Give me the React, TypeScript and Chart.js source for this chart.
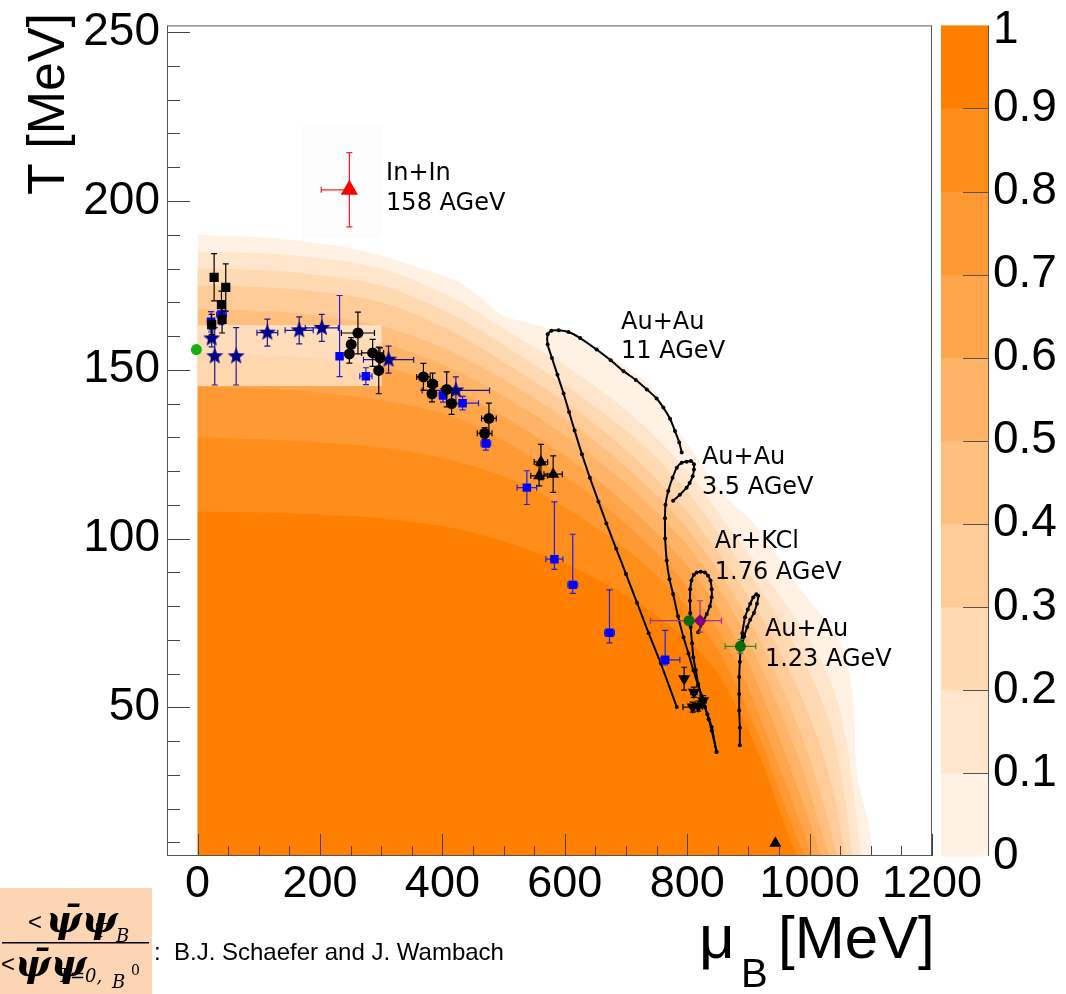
import React, { useEffect, useRef } from "react";
import { Chart, registerables } from "chart.js";
Chart.register(...registerables);

// ---------- axes ----------
const X_MIN = -50;
const X_MAX = 1200;
const Y_MIN = 6;
const Y_MAX = 252;
const xMajorTicks = [0, 200, 400, 600, 800, 1000, 1200];
const yMajorTicks = [50, 100, 150, 200, 250];
const xMinorTicks = [50, 100, 150, 250, 300, 350, 450, 500, 550, 650, 700, 750, 850, 900, 950, 1050, 1100, 1150];
const yMinorTicks = [10, 20, 30, 40, 60, 70, 80, 90, 110, 120, 130, 140, 160, 170, 180, 190, 210, 220, 230, 240];

// ---------- palette (colour bar) ----------
const paletteLevels = [0, 0.1, 0.2, 0.3, 0.4, 0.5, 0.6, 0.7, 0.8, 0.9, 1];
const paletteLabels = ["0", "0.1", "0.2", "0.3", "0.4", "0.5", "0.6", "0.7", "0.8", "0.9", "1"];
const paletteColors = ["#fff2e5", "#ffe5cc", "#ffd9b2", "#ffcc99", "#ffbf7f", "#ffb366", "#ffa64c", "#ff9933", "#ff8d19", "#ff8000"];

// ---------- condensate contours (mu_B, T) : outer edge of each level ----------
const contour00 = [[0, 190], [120, 189], [250, 186], [350, 181], [425, 176], [465, 171], [500, 166], [560, 163], [610, 160], [690, 152], [740, 145], [793, 130], [865, 112], [907, 105], [973, 88], [1050, 69], [1071, 53], [1077, 31], [1098, 14], [1104, 6]];
const contour01 = [[0, 185], [150, 184], [300, 180], [420, 171], [520, 160], [620, 149], [720, 135], [800, 120], [870, 103], [940, 86], [1000, 70], [1040, 55], [1062, 38], [1075, 20], [1085, 6]];
const contour02 = [[0, 180], [150, 179], [300, 175], [420, 166], [520, 155], [620, 143], [720, 129], [800, 114], [870, 97], [930, 82], [990, 64], [1030, 47], [1052, 30], [1064, 15], [1070, 6]];
const contour03 = [[0, 175], [150, 174], [300, 170], [420, 161], [520, 150], [620, 138], [720, 123], [800, 108], [870, 91], [920, 77], [975, 58], [1015, 40], [1040, 24], [1058, 6]];
const contour04 = [[0, 168], [150, 167], [300, 163], [420, 155], [520, 145], [620, 133], [720, 118], [800, 103], [860, 88], [910, 73], [960, 54], [1000, 35], [1028, 18], [1045, 6]];
const contour05 = [[0, 163], [150, 162], [300, 158], [420, 150], [520, 140], [620, 128], [720, 113], [800, 98], [860, 83], [905, 68], [950, 50], [990, 31], [1015, 16], [1032, 6]];
const contour06 = [[0, 155], [150, 154], [300, 151], [420, 144], [520, 134], [620, 122], [720, 107], [800, 92], [855, 78], [900, 63], [940, 46], [975, 29], [1002, 15], [1018, 6]];
const contour07 = [[0, 145], [150, 144], [300, 141], [420, 136], [520, 127], [620, 116], [720, 101], [800, 86], [850, 73], [895, 58], [930, 42], [962, 27], [988, 14], [1004, 6]];
const contour08 = [[0, 130], [150, 129], [300, 127], [420, 123], [520, 117], [620, 107], [720, 94], [800, 80], [850, 67], [890, 53], [925, 38], [955, 23], [978, 12], [992, 6]];
const contour09 = [[0, 108], [150, 107.5], [300, 106], [420, 103], [520, 98], [620, 91], [720, 81], [800, 70], [850, 60], [890, 47], [920, 35], [948, 21], [968, 11], [979, 6]];
const contours = [contour00, contour01, contour02, contour03, contour04, contour05, contour06, contour07, contour08, contour09];

// shaded lattice band and faint label box
const latticeBoxMu = [0, 301];
const latticeBoxT = [145.2, 163.2];
const labelBoxMu = [170, 300];
const labelBoxT = [189, 222.6];

// ---------- freeze-out data ----------
const blackSqMu = [27, 46, 39, 40, 23];
const blackSqT = [177.4, 174.4, 169.3, 164.9, 163.4];
const blackSqErrT = [7, 7, 4, 4, 3];
const blackSqErrMu = [2, 2, 3, 3, 2];

const blueSqMu = [22, 39, 232, 275, 401, 433, 471, 538, 583, 613, 673, 764];
const blueSqT = [164.2, 166.4, 154.0, 148.1, 142.4, 140.1, 128.2, 115.1, 93.9, 86.3, 72.1, 64.1];
const blueSqErrTLo = [3, 3, 6, 2.5, 2, 2, 2, 5, 3, 2.5, 3, 1.5];
const blueSqErrTHi = [3, 3, 18, 2.5, 2, 2, 2, 5, 17, 15, 12.7, 8.7];
const blueSqErrMuLo = [6, 8, 3, 10, 6, 26, 8, 16, 14, 8, 8, 7];
const blueSqErrMuHi = [6, 8, 3, 10, 6, 26, 8, 16, 14, 8, 8, 24];

const starMu = [23, 28, 63, 114, 166, 203, 312, 422];
const starT = [159.3, 154.0, 154.0, 161.0, 161.7, 162.4, 153.0, 143.9];
const starErrT = [2.5, 8.5, 8.5, 4, 4, 4, 4, 4];
const starErrMu = [5, 5, 5, 17, 23, 27, 41, 55];

const circMu = [262, 251, 248, 286, 298, 296, 369, 384, 383, 407, 415, 476, 469];
const circT = [160.9, 157.5, 154.7, 155.0, 153.5, 149.8, 147.9, 145.8, 142.9, 144.2, 140.0, 135.6, 131.2];
const circErrT = [6.2, 2, 2.7, 4, 3, 6.9, 4, 3.2, 2.4, 5.2, 3.2, 4.5, 1.7];
const circErrMu = [27, 5, 5, 18, 6, 6, 11, 8, 6, 6, 6, 12, 12];

const triMu = [561, 558, 581, 944];
const triT = [122.7, 118.6, 119.1, 9.8];
const triErrT = [5.2, 3, 5.4, 0];
const triErrMu = [11, 13.6, 15, 0];

const invTriMu = [795, 811, 826, 818, 809];
const invTriT = [58.5, 54.5, 52.0, 50.4, 50.1];
const invTriErrT = [3.4, 1.5, 1.5, 1.5, 1.5];
const invTriErrMu = [3, 5, 5, 6, 16];

const greenMu = [-2, 803, 887];
const greenT = [156, 75.7, 68.1];
const greenErrT = [0, 0, 2];
const greenErrMu = [0, 0, 25];
const greenColors = ["#10b010", "#0a6a0a", "#0a6a0a"];

const diamondMu = [821];
const diamondT = [75.7];
const diamondErrTLo = [3.4];
const diamondErrTHi = [5.9];
const diamondErrMuLo = [81];
const diamondErrMuHi = [35];

const redMu = [248];
const redT = [203.3];
const redErrT = [11];
const redErrMuLo = [46];
const redErrMuHi = [0];

// ---------- transport trajectories ----------
const traj11Mu = [783, 757, 737, 718, 700, 684, 668, 655, 641, 628, 616, 607, 598, 588, 579, 572, 572, 578, 590, 606, 625, 652, 675, 696, 716, 734, 750, 761, 772, 780, 787, 791];
const traj11T = [50.1, 63, 72, 81, 89.5, 97, 104.5, 111, 118, 125, 132, 137.5, 143, 148.5, 153.5, 157.5, 160.5, 161.6, 161.7, 161.2, 159.4, 156, 152.8, 149.6, 147, 144.2, 141.5, 138.8, 135.5, 131.9, 128.5, 125.5];
const traj35Mu = [848, 840, 833, 826, 818, 810, 802, 794, 785, 777, 771, 766.5, 764, 763.7, 764.5, 769, 776, 783, 791, 799, 806, 811, 811, 809, 804, 799, 788, 777];
const traj35T = [36.8, 44.2, 48, 52, 56.5, 61, 66, 70.8, 77, 83.6, 88, 93.5, 100, 106, 110, 114.1, 118, 121, 122.5, 122.8, 123, 122, 120.5, 118.5, 116.5, 115.1, 113, 111.2];
const traj176Mu = [848, 840, 835, 829, 823, 818, 814, 810, 808, 805.7, 805, 804.6, 805, 807, 811, 815.5, 822, 829, 834, 838, 840, 840, 837, 832, 825, 818];
const traj176T = [36.8, 43.2, 46.5, 50.1, 53.5, 57, 61, 64.9, 69, 73.8, 78, 81.6, 85, 87.6, 89.3, 90, 90.2, 90, 89, 87.6, 85, 82.6, 80, 77.7, 75, 72.3];
const traj123Mu = [886, 886, 885, 885, 885, 886, 887.4, 890, 894.5, 899, 903, 908, 913, 916, 914, 909, 903, 898, 893, 889];
const traj123T = [38.8, 44, 49.1, 54, 59, 63.5, 68, 72, 76.7, 79, 80.7, 82.6, 83.5, 83.1, 80.7, 78, 76, 73.8, 71, 67.8];

// ---------- labels ----------
const labelTexts = ["In+In", "158 AGeV", "Au+Au", "11 AGeV", "Au+Au", "3.5 AGeV", "Ar+KCl", "1.76 AGeV", "Au+Au", "1.23 AGeV"];
const labelMu = [308, 308, 692, 692, 824, 824, 845, 845, 927, 927];
const labelT = [206.2, 197.4, 162.2, 153.4, 122.1, 113.2, 97.2, 88.1, 71.3, 62.4];

const SANS = "'Liberation Sans', Arial, sans-serif";

const pts = (xs: number[], ys: number[]) => xs.map((x, i) => ({ x, y: ys[i] }));

function makeStar(color: string, ro: number, ri: number) {
  const c = document.createElement("canvas");
  const size = Math.ceil(ro * 2 + 2);
  c.width = size;
  c.height = size;
  const g = c.getContext("2d")!;
  g.fillStyle = color;
  g.beginPath();
  for (let i = 0; i < 10; i++) {
    const r = i % 2 === 0 ? ro : ri;
    const a = -Math.PI / 2 + (i * Math.PI) / 5;
    g.lineTo(size / 2 + r * Math.cos(a), size / 2 + r * Math.sin(a));
  }
  g.closePath();
  g.fill();
  return c;
}

const errorBarPlugin = {
  id: "errorBars",
  beforeDatasetDraw(chart: any, args: any) {
    const ds = chart.data.datasets[args.index];
    if (!ds.errTLo) return;
    const { ctx, chartArea: a } = chart;
    const xs = chart.scales.x;
    const ys = chart.scales.y;
    ctx.save();
    ctx.beginPath();
    ctx.rect(a.left, a.top, a.width, a.height);
    ctx.clip();
    ctx.strokeStyle = ds.errColor;
    ctx.lineWidth = 1.2;
    const cap = 3;
    ds.data.forEach((p: any, i: number) => {
      const px = xs.getPixelForValue(p.x);
      const py = ys.getPixelForValue(p.y);
      const tl = ds.errTLo[i], th = ds.errTHi[i], ml = ds.errMuLo[i], mh = ds.errMuHi[i];
      ctx.beginPath();
      if (tl || th) {
        const y1 = ys.getPixelForValue(p.y + th);
        const y2 = ys.getPixelForValue(p.y - tl);
        ctx.moveTo(px, y1); ctx.lineTo(px, y2);
        if (th) { ctx.moveTo(px - cap, y1); ctx.lineTo(px + cap, y1); }
        if (tl) { ctx.moveTo(px - cap, y2); ctx.lineTo(px + cap, y2); }
      }
      if (ml || mh) {
        const x1 = xs.getPixelForValue(p.x - ml);
        const x2 = xs.getPixelForValue(p.x + mh);
        ctx.moveTo(x1, py); ctx.lineTo(x2, py);
        if (ml) { ctx.moveTo(x1, py - cap); ctx.lineTo(x1, py + cap); }
        if (mh) { ctx.moveTo(x2, py - cap); ctx.lineTo(x2, py + cap); }
      }
      ctx.stroke();
    });
    ctx.restore();
  },
};

const decorPlugin = {
  id: "decor",
  afterDatasetsDraw(chart: any) {
    const { ctx } = chart;
    const xs = chart.scales.x;
    const ys = chart.scales.y;
    ctx.save();
    ctx.fillStyle = "#000";
    ctx.font = "24px 'DejaVu Sans', sans-serif";
    ctx.textAlign = "left";
    ctx.textBaseline = "alphabetic";
    labelTexts.forEach((t, i) => ctx.fillText(t, xs.getPixelForValue(labelMu[i]), ys.getPixelForValue(labelT[i])));
    ctx.restore();
  },
  afterDraw(chart: any) {
    const { ctx, chartArea: a } = chart;
    const xs = chart.scales.x;
    const ys = chart.scales.y;
    ctx.save();
    // ticks
    ctx.strokeStyle = "#444";
    ctx.lineWidth = 1;
    ctx.beginPath();
    const xt = (v: number, len: number) => {
      const px = Math.round(xs.getPixelForValue(v)) + 0.5;
      ctx.moveTo(px, a.bottom); ctx.lineTo(px, a.bottom - len);
    };
    const yt = (v: number, len: number) => {
      const py = Math.round(ys.getPixelForValue(v)) + 0.5;
      ctx.moveTo(a.left, py); ctx.lineTo(a.left + len, py);
    };
    xMajorTicks.forEach((v) => xt(v, 22));
    xMinorTicks.forEach((v) => xt(v, 10));
    yMajorTicks.forEach((v) => yt(v, 23));
    yMinorTicks.forEach((v) => yt(v, 13));
    ctx.stroke();
    // frame
    ctx.strokeStyle = "#555";
    ctx.strokeRect(a.left + 0.5, a.top + 0.5, a.width - 1, a.height - 1);

    // colour bar
    const cbL = 941, cbR = 988;
    const cbH = a.bottom - a.top;
    paletteColors.forEach((c, k) => {
      const y0 = a.bottom - cbH * paletteLevels[k + 1];
      const y1 = a.bottom - cbH * paletteLevels[k];
      ctx.fillStyle = c;
      ctx.fillRect(cbL, y0, cbR - cbL, y1 - y0 + 0.5);
    });
    ctx.strokeStyle = "#555";
    ctx.beginPath();
    ctx.moveTo(cbR + 0.5, a.top); ctx.lineTo(cbR + 0.5, a.bottom);
    paletteLevels.forEach((lv) => {
      if (lv === 0 || lv === 1) return;
      const py = Math.round(a.bottom - cbH * lv) + 0.5;
      ctx.moveTo(cbR - 25, py); ctx.lineTo(cbR, py);
    });
    ctx.stroke();
    ctx.fillStyle = "#000";
    ctx.font = `46px ${SANS}`;
    ctx.textAlign = "left";
    ctx.textBaseline = "middle";
    paletteLabels.forEach((t, k) => {
      const yy = a.bottom - cbH * paletteLevels[k];
      ctx.fillText(t, cbR + 5, k === paletteLabels.length - 1 ? yy + 5 : yy);
    });

    // axis titles
    ctx.textBaseline = "alphabetic";
    ctx.save();
    ctx.translate(64, 195);
    ctx.rotate(-Math.PI / 2);
    ctx.font = `52px ${SANS}`;
    ctx.fillText("T [MeV]", 0, 0);
    ctx.restore();
    ctx.font = `62px ${SANS}`;
    ctx.fillText("\u03bc", 699, 958);
    ctx.font = `40px ${SANS}`;
    ctx.fillText("B", 741, 987);
    ctx.font = `60px ${SANS}`;
    ctx.fillText("[MeV]", 778, 958);

    // formula box
    ctx.fillStyle = "#fcd5b5";
    ctx.fillRect(0, 888, 152, 106);
    ctx.fillStyle = "#000";
    ctx.font = `24px ${SANS}`;
    ctx.fillText("<", 28, 930);
    ctx.fillText("<", 1, 972);
    ctx.font = "bold italic 38px 'DejaVu Serif', serif";
    ctx.fillText("\u03c8\u0304\u03c8", 46, 932);
    ctx.fillText("\u03c8\u0304\u03c8", 15, 976);
    ctx.font = "italic 18px 'DejaVu Serif', serif";
    ctx.fillText("T", 95, 937);
    ctx.fillText("B", 116, 942);
    ctx.fillText("T=0,", 58, 982);
    ctx.fillText("B", 112, 988);
    ctx.font = "14px 'DejaVu Serif', serif";
    ctx.fillText("0", 131, 975);
    ctx.fillRect(2, 942, 147, 1.5);
    ctx.font = `24px ${SANS}`;
    ctx.fillText(":  B.J. Schaefer and J. Wambach", 154, 960);
    ctx.restore();
  },
};

export default function App() {
  const ref = useRef<HTMLCanvasElement | null>(null);
  useEffect(() => {
    document.body.style.margin = "0";
    const canvas = ref.current;
    if (!canvas) return;
    const star = makeStar("#00008b", 9, 3.8);

    const bandSets = contours.map((c, k) => ({
      data: c.map(([x, y]) => ({ x, y })),
      borderWidth: 0,
      pointRadius: 0,
      backgroundColor: paletteColors[k],
      fill: "start",
      tension: 0.3,
      order: 40 - k,
    }));

    const boxSets = [
      {
        data: [{ x: latticeBoxMu[0], y: latticeBoxT[1] }, { x: latticeBoxMu[1], y: latticeBoxT[1] }],
        borderWidth: 0, pointRadius: 0, backgroundColor: "rgba(255,255,255,0.55)",
        fill: { value: latticeBoxT[0] }, order: 20,
      },
      {
        data: [{ x: labelBoxMu[0], y: labelBoxT[1] }, { x: labelBoxMu[1], y: labelBoxT[1] }],
        borderWidth: 0, pointRadius: 0, backgroundColor: "rgba(0,0,0,0.01)",
        fill: { value: labelBoxT[0] }, order: 20,
      },
    ];

    const trajSets = [
      [traj11Mu, traj11T], [traj35Mu, traj35T], [traj176Mu, traj176T], [traj123Mu, traj123T],
    ].map(([m, t]) => ({
      data: pts(m, t),
      borderColor: "#000",
      borderWidth: 2,
      pointRadius: 2,
      pointBackgroundColor: "#000",
      pointBorderWidth: 0,
      fill: false,
      tension: 0.2,
      order: 10,
    }));

    const marker = (data: any, style: any, radius: number, color: any, errColor: string, eTLo: number[], eTHi: number[], eMuLo: number[], eMuHi: number[], extra: any = {}) => ({
      data,
      showLine: false,
      pointStyle: style,
      pointRadius: radius,
      pointBackgroundColor: color,
      pointBorderColor: color,
      pointBorderWidth: 0,
      errColor,
      errTLo: eTLo, errTHi: eTHi, errMuLo: eMuLo, errMuHi: eMuHi,
      order: 1,
      ...extra,
    });

    const markerSets = [
      marker(pts(circMu, circT), "circle", 5.5, "#000", "#000", circErrT, circErrT, circErrMu, circErrMu),
      marker(pts(blackSqMu, blackSqT), "rect", 6.5, "#000", "#000", blackSqErrT, blackSqErrT, blackSqErrMu, blackSqErrMu),
      marker(pts(triMu, triT), "triangle", 7, "#000", "#000", triErrT, triErrT, triErrMu, triErrMu),
      marker(pts(invTriMu, invTriT), "triangle", 7, "#000", "#000", invTriErrT, invTriErrT, invTriErrMu, invTriErrMu, { rotation: 180 }),
      marker(pts(starMu, starT), star, 9, "#00008b", "#1a1a90", starErrT, starErrT, starErrMu, starErrMu),
      marker(pts(blueSqMu, blueSqT), "rect", 6, "#0000ff", "#2020e0", blueSqErrTLo, blueSqErrTHi, blueSqErrMuLo, blueSqErrMuHi),
      marker(pts(greenMu, greenT), "circle", 5.5, greenColors, "#2e8b2e", greenErrT, greenErrT, greenErrMu, greenErrMu),
      marker(pts(diamondMu, diamondT), "rectRot", 6.5, "#800080", "#8a3a9a", diamondErrTLo, diamondErrTHi, diamondErrMuLo, diamondErrMuHi),
      marker(pts(redMu, redT), "triangle", 10, "#ff0000", "#ff2020", redErrT, redErrT, redErrMuLo, redErrMuHi),
    ];
    markerSets.forEach((s: any, i) => (s.order = i === 6 || i === 7 ? 0 : 1));

    const chart = new Chart(canvas, {
      type: "line",
      data: { datasets: [...markerSets, ...trajSets, ...boxSets, ...bandSets] as any },
      options: {
        animation: false,
        responsive: false,
        devicePixelRatio: 1,
        events: [],
        layout: { padding: { left: 0, top: 23, right: 134, bottom: 0 } },
        plugins: { legend: { display: false }, tooltip: { enabled: false } },
        scales: {
          x: {
            type: "linear",
            min: X_MIN,
            max: X_MAX,
            afterFit: (s: any) => { s.height = 138; },
            afterBuildTicks: (s: any) => { s.ticks = xMajorTicks.map((v) => ({ value: v })); },
            grid: { display: false, drawTicks: false },
            border: { display: false },
            ticks: { font: { family: SANS, size: 45, lineHeight: 1.2 }, color: "#000", padding: 2, maxRotation: 0, autoSkip: false, callback: (v: any) => String(v) },
          },
          y: {
            type: "linear",
            min: Y_MIN,
            max: Y_MAX,
            afterFit: (s: any) => { s.width = 167; },
            afterBuildTicks: (s: any) => { s.ticks = yMajorTicks.map((v) => ({ value: v })); },
            grid: { display: false, drawTicks: false },
            border: { display: false },
            ticks: { font: { family: SANS, size: 46, lineHeight: 0.8 }, color: "#000", padding: 7, autoSkip: false, callback: (v: any) => String(v) },
          },
        },
      } as any,
      plugins: [errorBarPlugin, decorPlugin],
    });
    return () => chart.destroy();
  }, []);
  return (
    <div style={{ position: "relative", width: 1066, height: 994, background: "#fff" }}>
      <canvas ref={ref} width={1066} height={994} style={{ display: "block" }} />
    </div>
  );
}
